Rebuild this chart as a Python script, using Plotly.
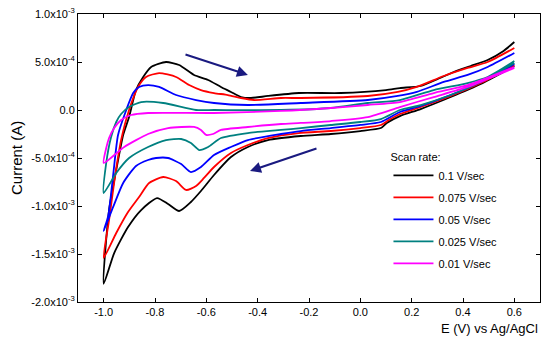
import plotly.graph_objects as go

# ---- data (E in V, I in units of 1e-4 A) ----
labels = ["0.1 V/sec", "0.075 V/sec", "0.05 V/sec", "0.025 V/sec", "0.01 V/sec"]
colors = ["#000000", "#ff0000", "#0000ff", "#008080", "#ff00ff"]

# reverse (cathodic) branch: 0.6 -> -1.0
E_rev_100 = [0.6, 0.469, 0.352, 0.235, 0.154, 0.103, 0.080, 0.0, -0.115, -0.232, -0.360, -0.438, -0.504, -0.570, -0.621, -0.660, -0.706, -0.749, -0.792, -0.854, -0.905, -0.959, -1.0]
I_rev_100 = [4.58, 2.71, 1.35, 0.10, -0.63, -1.35, -1.88, -2.19, -2.50, -2.71, -3.13, -3.85, -4.90, -6.77, -8.44, -9.58, -10.52, -9.79, -9.17, -10.42, -12.19, -14.90, -18.1]
# forward (anodic) branch: -1.0 -> 0.6
E_fwd_100 = [-1.0, -0.979, -0.951, -0.924, -0.901, -0.874, -0.846, -0.815, -0.757, -0.706, -0.648, -0.593, -0.543, -0.504, -0.465, -0.426, -0.360, -0.239, -0.076, 0.100, 0.154, 0.235, 0.302, 0.364, 0.430, 0.496, 0.558, 0.6]
I_fwd_100 = [-18.1, -10.42, -6.25, -2.60, -0.73, 2.08, 3.44, 4.48, 5.0, 4.69, 3.65, 3.13, 2.40, 1.88, 1.35, 1.25, 1.46, 1.77, 1.77, 2.08, 2.29, 2.50, 3.23, 3.96, 4.58, 5.21, 6.15, 7.08]

E_rev_075 = [0.6, 0.469, 0.352, 0.235, 0.154, 0.111, 0.080, 0.0, -0.115, -0.240, -0.360, -0.438, -0.504, -0.570, -0.609, -0.640, -0.679, -0.718, -0.768, -0.823, -0.862, -0.905, -0.951, -1.0]
I_rev_075 = [4.69, 2.81, 1.46, 0.31, -0.42, -1.04, -1.56, -1.88, -2.19, -2.40, -2.92, -3.65, -4.48, -5.94, -7.08, -7.92, -8.33, -7.40, -6.98, -7.60, -9.06, -10.63, -12.81, -15.4]
E_fwd_075 = [-1.0, -0.979, -0.955, -0.932, -0.901, -0.866, -0.835, -0.784, -0.718, -0.667, -0.621, -0.570, -0.516, -0.465, -0.414, -0.309, -0.232, 0.029, 0.146, 0.220, 0.325, 0.418, 0.496, 0.6]
I_fwd_075 = [-15.4, -11.46, -6.77, -3.13, 0.0, 2.40, 3.44, 3.85, 3.44, 2.60, 2.08, 1.77, 1.56, 1.25, 1.04, 1.25, 1.25, 1.46, 1.88, 2.40, 3.54, 4.38, 5.0, 6.46]

E_rev_050 = [0.6, 0.469, 0.352, 0.235, 0.154, 0.080, 0.0, -0.115, -0.232, -0.309, -0.438, -0.504, -0.570, -0.621, -0.660, -0.698, -0.749, -0.796, -0.827, -0.874, -0.924, -0.963, -1.0]
I_rev_050 = [4.79, 2.92, 1.56, 0.42, -0.21, -1.25, -1.56, -1.88, -2.19, -2.50, -3.13, -3.85, -4.69, -5.94, -6.46, -5.63, -5.0, -5.0, -5.21, -5.83, -7.60, -10.10, -12.6]
E_fwd_050 = [-1.0, -0.982, -0.963, -0.944, -0.912, -0.885, -0.862, -0.827, -0.784, -0.718, -0.640, -0.570, -0.438, -0.232, 0.029, 0.146, 0.220, 0.325, 0.418, 0.496, 0.6]
I_fwd_050 = [-12.6, -11.0, -6.77, -2.60, 0.0, 1.77, 2.40, 2.60, 2.40, 1.56, 1.04, 0.73, 0.52, 0.73, 1.04, 1.46, 1.88, 2.92, 3.65, 4.48, 5.94]

E_rev_025 = [0.6, 0.469, 0.352, 0.235, 0.154, 0.080, 0.0, -0.115, -0.232, -0.309, -0.438, -0.543, -0.593, -0.628, -0.660, -0.698, -0.757, -0.827, -0.901, -0.951, -1.0]
I_rev_025 = [4.90, 2.92, 1.56, 0.52, 0.0, -0.94, -1.25, -1.56, -1.88, -2.08, -2.40, -2.92, -3.85, -4.17, -3.44, -3.02, -3.13, -3.85, -5.0, -6.56, -8.65]
E_fwd_025 = [-1.0, -0.990, -0.971, -0.951, -0.932, -0.901, -0.854, -0.768, -0.640, -0.570, -0.309, -0.115, 0.029, 0.154, 0.286, 0.418, 0.496, 0.6]
I_fwd_025 = [-8.65, -5.52, -2.81, -1.25, -0.42, 0.31, 0.83, 0.73, 0.0, 0.0, 0.0, 0.21, 0.73, 1.04, 2.08, 2.81, 3.44, 5.10]

E_rev_010 = [0.6, 0.418, 0.286, 0.154, 0.029, -0.115, -0.232, -0.309, -0.438, -0.543, -0.574, -0.601, -0.621, -0.648, -0.749, -0.827, -0.920, -1.0]
I_rev_010 = [4.38, 2.40, 1.35, 0.31, -0.73, -1.15, -1.35, -1.46, -1.77, -2.08, -2.50, -2.60, -2.08, -1.77, -1.88, -2.50, -3.85, -5.52]
E_fwd_010 = [-1.0, -0.990, -0.979, -0.959, -0.932, -0.893, -0.827, -0.570, -0.309, -0.115, 0.029, 0.154, 0.286, 0.418, 0.6]
I_fwd_010 = [-5.52, -3.96, -2.92, -1.88, -1.04, -0.52, -0.31, -0.31, -0.10, 0.21, 0.52, 0.83, 1.77, 2.60, 4.48]

scale = 1e-4
branches = [
    (E_rev_100, I_rev_100, E_fwd_100, I_fwd_100),
    (E_rev_075, I_rev_075, E_fwd_075, I_fwd_075),
    (E_rev_050, I_rev_050, E_fwd_050, I_fwd_050),
    (E_rev_025, I_rev_025, E_fwd_025, I_fwd_025),
    (E_rev_010, I_rev_010, E_fwd_010, I_fwd_010),
]

y_tickvals = [-2e-3, -1.5e-3, -1e-3, -5e-4, 0, 5e-4, 1e-3]
y_ticktext = ["-2.0x10<sup>-3</sup>", "-1.5x10<sup>-3</sup>", "-1.0x10<sup>-3</sup>",
              "-5.0x10<sup>-4</sup>", "0.0", "5.0x10<sup>-4</sup>", "1.0x10<sup>-3</sup>"]
x_tickvals = [-1.0, -0.8, -0.6, -0.4, -0.2, 0.0, 0.2, 0.4, 0.6]
x_ticktext = ["-1.0", "-0.8", "-0.6", "-0.4", "-0.2", "0.0", "0.2", "0.4", "0.6"]

FONT = "Liberation Sans, Arial, sans-serif"

fig = go.Figure()
for k, ((er, ir, ef, i_f), lab, col) in enumerate(zip(branches, labels, colors)):
    xs = er + ef[1:]
    ys = [v * scale for v in ir + i_f[1:]]
    fig.add_trace(go.Scatter(x=xs, y=ys, mode="lines", name=lab, legendgroup="g%d" % k,
                             line=dict(color=col, width=1.8, shape="spline", smoothing=0.6)))

arrow_col = "#1a1a80"
fig.add_annotation(x=-0.438, y=3.65e-4, ax=-0.687, ay=5.83e-4, xref="x", yref="y",
                   axref="x", ayref="y", showarrow=True, arrowhead=2, arrowsize=1.1,
                   arrowwidth=2, arrowcolor=arrow_col, text="")
fig.add_annotation(x=-0.430, y=-6.35e-4, ax=-0.165, ay=-3.96e-4, xref="x", yref="y",
                   axref="x", ayref="y", showarrow=True, arrowhead=2, arrowsize=1.1,
                   arrowwidth=2, arrowcolor=arrow_col, text="")

fig.add_annotation(text="Current (A)", textangle=-90, xref="paper", yref="paper",
                   x=0, y=0.5, xanchor="center", yanchor="middle", xshift=-62,
                   showarrow=False, font=dict(family=FONT, size=15, color="#000"))
fig.add_annotation(text="E (V) vs Ag/AgCl", xref="paper", yref="paper",
                   x=1, y=0, xanchor="right", yanchor="top", yshift=-17,
                   showarrow=False, font=dict(family=FONT, size=13, color="#000"))

axis_common = dict(showline=True, linecolor="black", linewidth=1, mirror="ticks",
                   ticks="inside", ticklen=4, tickcolor="black", showgrid=False,
                   zeroline=False, automargin=False,
                   tickfont=dict(family=FONT, size=11, color="#000"))

fig.update_layout(
    width=550, height=343,
    margin=dict(l=78, r=10, t=14, b=41),
    paper_bgcolor="white", plot_bgcolor="white",
    showlegend=True,
    legend=dict(x=0.672, y=0.54, xanchor="left", yanchor="top",
                bgcolor="rgba(0,0,0,0)", font=dict(family=FONT, size=11, color="#000"),
                title=dict(text="Scan rate:", font=dict(family=FONT, size=11, color="#000"), side="top"),
                itemwidth=40, tracegroupgap=3),
    xaxis=dict(range=[-1.1, 0.7], tickvals=x_tickvals, ticktext=x_ticktext, **axis_common),
    yaxis=dict(range=[-2e-3, 1e-3], tickvals=y_tickvals, ticktext=y_ticktext, **axis_common),
)

fig.write_html("out.html", config={"displayModeBar": False},
               post_script="document.body.style.margin='0';document.body.style.overflow='hidden';")
